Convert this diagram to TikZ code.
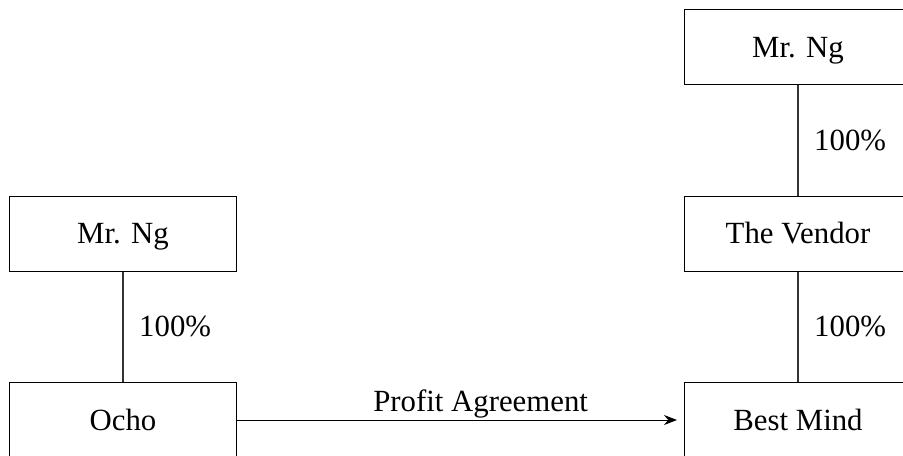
\documentclass[tikz,border=0pt]{standalone}
\usepackage{fontspec}
\setmainfont{Liberation Serif}
\usepackage{tikz}
\usetikzlibrary{positioning}
\usetikzlibrary{arrows.meta}
\tikzstyle{chart} = [x = 0.5pt, y = -0.5pt, node distance = 55.2pt]
\newcommand{\chartFont}{\fontsize{15.4}{18}\selectfont}
\tikzstyle{entityBox} = [draw, line width = .5pt, minimum width = 113.5pt, minimum height = 37.5pt, inner sep = 0, text height = 10.2pt, text depth = 0pt, font = \chartFont]
\tikzstyle{holdingLine} = [line width = .6pt, color = black!80]
\tikzstyle{shareText} = [font = \chartFont, text = black, midway, anchor = west, inner sep = 0, xshift = 7.8pt]
\tikzstyle{agreementLine} = [line width = .5pt, -{Stealth[length = 6.5pt, width = 5pt]}, shorten > = 3.5pt]
\tikzstyle{agreementText} = [font = \chartFont, above, inner sep = .5pt, pos = .545]
\newcommand{\holdingLink}[3]{\draw [holdingLine] (#1) -- (#2) node [shareText] {#3};}

\begin{document}
\begin{tikzpicture}[chart]
  \useasboundingbox (0,0) rectangle (903,455);
  \clip (0,0) rectangle (903,455);

  % left side
  \node [entityBox] (ocho) at (123,420) {Ocho};
  \node [entityBox, above = of ocho] (ngLeft) {Mr. Ng};
  \holdingLink{ngLeft.south}{ocho.north}{100\%}

  % right side
  \node [entityBox] (bestMind) at (798,420) {Best Mind};
  \node [entityBox, above = of bestMind] (vendor) {The Vendor};
  \node [entityBox, above = of vendor] (ngRight) {Mr. Ng};
  \holdingLink{ngRight.south}{vendor.north}{100\%}
  \holdingLink{vendor.south}{bestMind.north}{100\%}

  \draw [agreementLine] (ocho.east) -- (bestMind.west) node [agreementText] {Profit Agreement};
\end{tikzpicture}
\end{document}
